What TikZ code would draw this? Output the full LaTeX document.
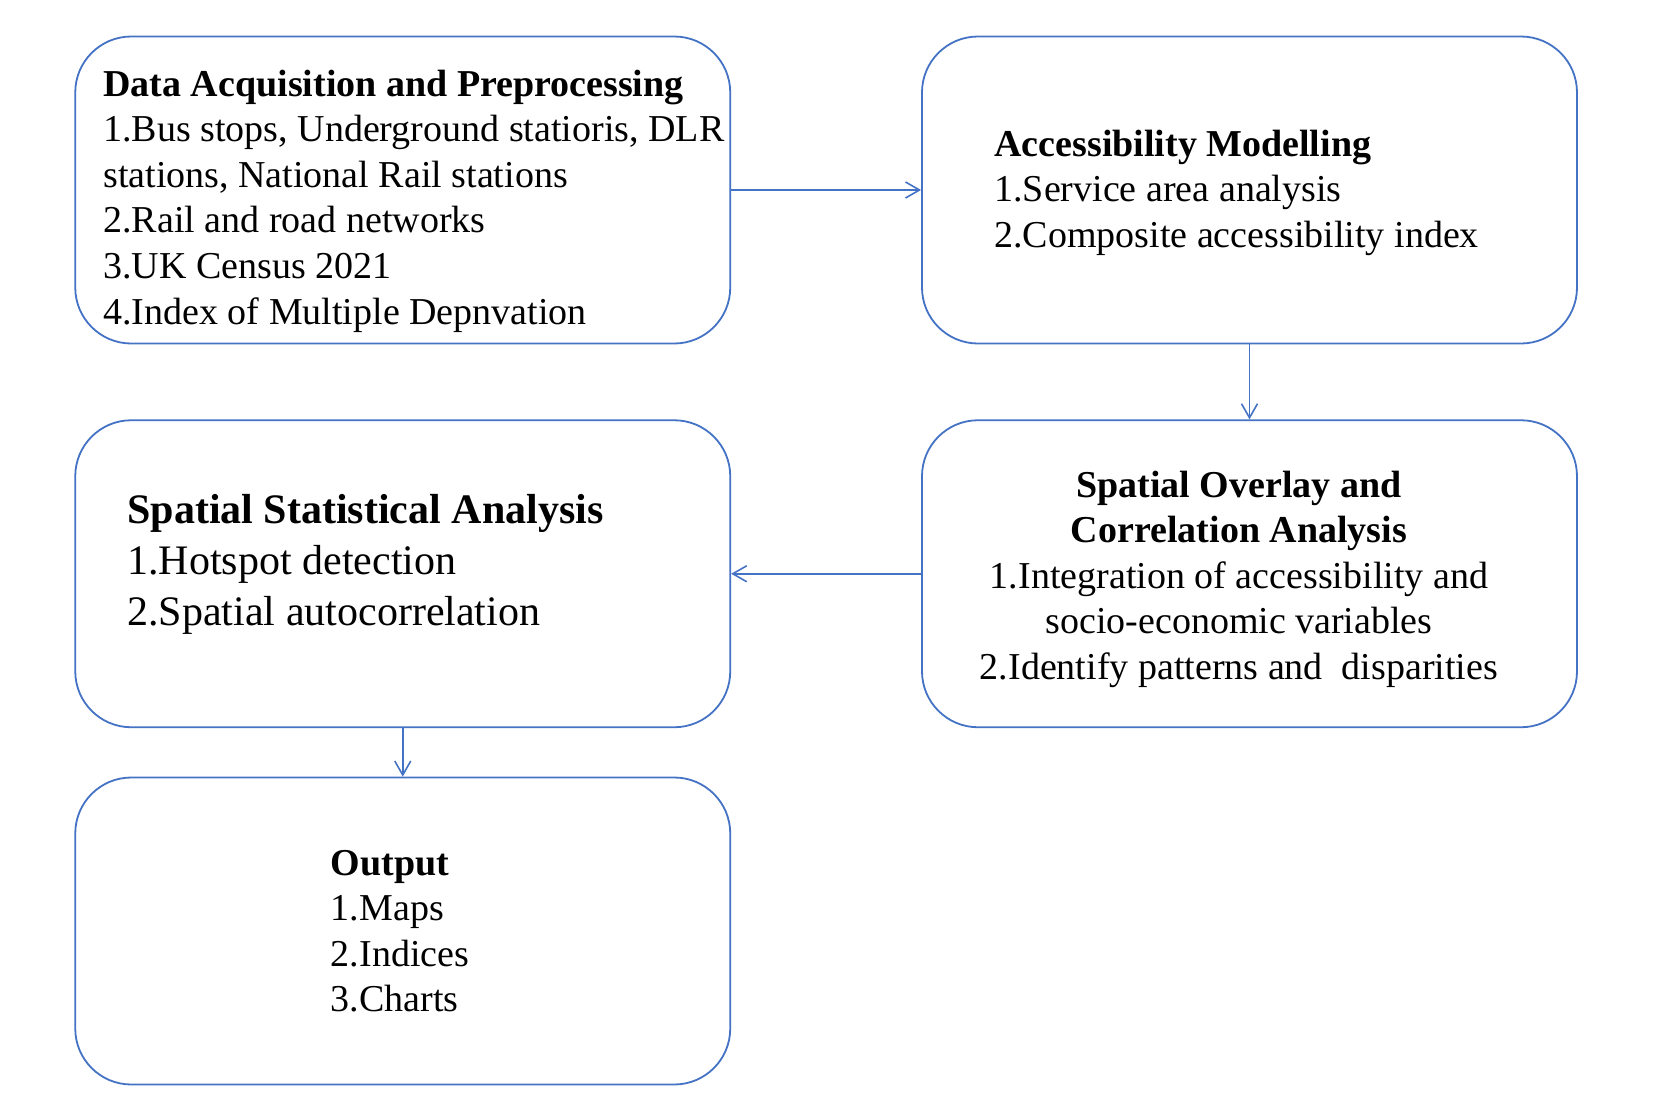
\documentclass[tikz,border=0pt]{standalone}
\usepackage{fontspec}
\setmainfont{Liberation Serif}
\usetikzlibrary{arrows.meta}
\definecolor{boxblue}{HTML}{4472C4}
\begin{document}
\begin{tikzpicture}[x=0.5pt,y=-0.5pt,
  box/.style={draw=boxblue,line width=0.9pt,rounded corners=28pt,
    minimum width=327.5pt,minimum height=153.5pt,inner sep=0pt},
  txt/.style={inner sep=0pt,font=\fontsize{19}{22.8}\selectfont},
  bigtxt/.style={inner sep=0pt,font=\fontsize{21}{25.5}\selectfont},
  link/.style={draw=boxblue,line width=0.8pt,-{Straight Barb[length=7pt,width=8pt]}}]
\useasboundingbox (0,0) rectangle (1656,1114);
\fill[white] (0,0) rectangle (1656,1114);

\node[box] (b1) at (402.75,190) {};
\node[box] (b2) at (1249.5,190) {};
\node[box] (b3) at (402.75,573.75) {};
\node[box] (b4) at (1249.5,573.75) {};
\node[box] (b5) at (402.75,931) {};

\node[txt,anchor=base west] (t1) at (103,96) {\begin{tabular}[t]{@{}l@{}}
\textbf{Data Acquisition and Preprocessing}\\
1.Bus stops, Underground statioris, DLR\\
stations, National Rail stations\\
2.Rail and road networks\\
3.UK Census 2021\\
4.Index of Multiple Depnvation
\end{tabular}};

\node[txt,anchor=base west] (t2) at (994,156.3) {\begin{tabular}[t]{@{}l@{}}
\textbf{Accessibility Modelling}\\
1.Service area analysis\\
2.Composite accessibility index
\end{tabular}};

\node[bigtxt,anchor=base west] (t3) at (127,523) {\begin{tabular}[t]{@{}l@{}}
\textbf{Spatial Statistical Analysis}\\
1.Hotspot detection\\
2.Spatial autocorrelation
\end{tabular}};

\node[txt,anchor=base] (t4) at (1239,497) {\begin{tabular}[t]{@{}c@{}}
\textbf{Spatial Overlay and}\\
\textbf{Correlation Analysis}\\
1.Integration of accessibility and\\
socio-economic variables\\
2.Identify patterns and\ \ disparities
\end{tabular}};

\node[txt,anchor=base west] (t5) at (330.5,875) {\begin{tabular}[t]{@{}l@{}}
\textbf{Output}\\
1.Maps\\
2.Indices\\
3.Charts
\end{tabular}};

\draw[link] (b1.east) -- (b2.west);
\draw[link] (b2.south) -- (b4.north);
\draw[link] (b4.west) -- (b3.east);
\draw[link] (b3.south) -- (b5.north);
\end{tikzpicture}
\end{document}
